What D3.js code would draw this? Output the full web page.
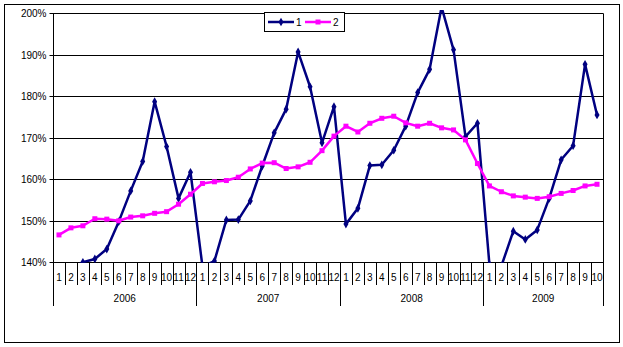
<!DOCTYPE html>
<html>
<head>
<meta charset="utf-8">
<script src="https://cdn.jsdelivr.net/npm/d3@7/dist/d3.min.js"></script>
<style>
  html, body { margin: 0; padding: 0; background: #fff; }
  svg { display: block; }
  text { font-family: "Liberation Sans", Arial, sans-serif; font-size: 10px; fill: #000; }
</style>
</head>
<body>
<svg id="chart" width="623" height="347"></svg>
<script>
// ---- data ----
const years = ["2006", "2007", "2008", "2009"];
const monthsPerYear = [12, 12, 12, 10];
const seriesNames = ["1", "2"];
const series1 = [
  137.0, 138.5, 140.0, 140.8, 143.2, 149.8, 157.2, 164.3, 178.7, 167.9, 155.4, 161.7,
  139.0, 140.3, 150.2, 150.3, 154.8, 163.2, 171.2, 176.9, 190.7, 182.3, 168.8, 177.5,
  149.2, 153.0, 163.3, 163.5, 167.0, 172.8, 180.9, 186.5, 201.5, 191.2, 170.3, 173.5,
  139.5, 139.1, 147.5, 145.5, 147.8, 155.4, 164.7, 168.1, 187.7, 175.5
];
const series2 = [
  146.6, 148.3, 148.8, 150.5, 150.4, 150.0, 150.9, 151.2, 151.8, 152.2, 154.0, 156.4,
  159.0, 159.4, 159.7, 160.5, 162.5, 163.9, 164.0, 162.6, 163.0, 164.1, 166.9, 170.4,
  172.8, 171.4, 173.5, 174.7, 175.2, 173.6, 172.8, 173.5, 172.4, 171.9, 169.5, 163.8,
  158.4, 157.0, 156.0, 155.7, 155.4, 155.8, 156.6, 157.3, 158.4, 158.8
];
const yTicks = [140, 150, 160, 170, 180, 190, 200];

// ---- build categories ----
const cats = [];
years.forEach((yr, yi) => {
  for (let m = 1; m <= monthsPerYear[yi]; m++) cats.push({ key: yr + "-" + m, year: yr, month: m });
});

const svg = d3.select("#chart");
const W = 623, H = 347;
const plot = { left: 53, right: 603, top: 13.3, bottom: 262.3 };

// outer border
svg.append("rect").attr("x", 4.5).attr("y", 4.5).attr("width", 615).attr("height", 338)
  .attr("fill", "#fff").attr("stroke", "#000").attr("stroke-width", 1);

const x = d3.scaleBand().domain(cats.map(c => c.key)).range([plot.left, plot.right]).padding(0);
const y = d3.scaleLinear().domain([140, 200]).range([plot.bottom, plot.top]);

// gridlines
svg.append("g").selectAll("line").data(yTicks).join("line")
  .attr("x1", plot.left).attr("x2", plot.right)
  .attr("y1", d => Math.round(y(d)) + 0.5).attr("y2", d => Math.round(y(d)) + 0.5)
  .attr("stroke", "#000").attr("stroke-width", 1);

// y axis
const yAxis = d3.axisLeft(y).tickValues(yTicks).tickFormat(d => d + "%").tickSize(4).tickPadding(3);
const gy = svg.append("g").attr("transform", `translate(${plot.left + 0.5},0)`).call(yAxis);
gy.select(".domain").remove();
gy.selectAll(".tick line").attr("stroke", "#000");
gy.selectAll(".tick").attr("transform", d => `translate(0,${Math.round(y(d)) + 0.5})`);
gy.selectAll("text").attr("font-size", 10).attr("font-family", "Liberation Sans, Arial, sans-serif").attr("fill", "#000");

// left axis line and right border
svg.append("line").attr("x1", plot.left + 0.5).attr("x2", plot.left + 0.5)
  .attr("y1", plot.top).attr("y2", 306).attr("stroke", "#000");
svg.append("line").attr("x1", plot.right + 0.5).attr("x2", plot.right + 0.5)
  .attr("y1", plot.top).attr("y2", 306).attr("stroke", "#000");

// month tick lines
const bw = x.bandwidth();
svg.append("g").selectAll("line").data(cats.slice(1)).join("line")
  .attr("x1", d => Math.round(x(d.key)) + 0.5).attr("x2", d => Math.round(x(d.key)) + 0.5)
  .attr("y1", plot.bottom).attr("y2", d => d.month === 1 ? 306 : 285)
  .attr("stroke", "#000");

// month labels
svg.append("g").selectAll("text").data(cats).join("text")
  .attr("x", d => x(d.key) + bw / 2).attr("y", 281)
  .attr("text-anchor", "middle").text(d => d.month);

// year labels
let idx = 0;
const yearGroups = years.map((yr, yi) => {
  const first = cats[idx].key, last = cats[idx + monthsPerYear[yi] - 1].key;
  idx += monthsPerYear[yi];
  return { year: yr, x0: x(first), x1: x(last) + bw };
});
svg.append("g").selectAll("text").data(yearGroups).join("text")
  .attr("x", d => (d.x0 + d.x1) / 2).attr("y", 302)
  .attr("text-anchor", "middle").text(d => d.year);

// clip
svg.append("clipPath").attr("id", "clip").append("rect")
  .attr("x", plot.left - 6).attr("y", 10).attr("width", plot.right - plot.left + 12).attr("height", plot.bottom - 10 + 0.5);

const line = d3.line().x((d, i) => x(cats[i].key) + bw / 2).y(d => y(d));
const g = svg.append("g").attr("clip-path", "url(#clip)");

const navy = "#000080", pink = "#FF00FF";
g.append("path").datum(series1).attr("d", line).attr("fill", "none")
  .attr("stroke", navy).attr("stroke-width", 2.5).attr("stroke-linejoin", "round");
g.append("g").selectAll("path").data(series1).join("path")
  .attr("d", d3.symbol().type(d3.symbolDiamond).size(22))
  .attr("transform", (d, i) => `translate(${x(cats[i].key) + bw / 2},${y(d)})`)
  .attr("fill", navy);

g.append("path").datum(series2).attr("d", line).attr("fill", "none")
  .attr("stroke", pink).attr("stroke-width", 2.5).attr("stroke-linejoin", "round");
g.append("g").selectAll("rect").data(series2).join("rect")
  .attr("x", (d, i) => x(cats[i].key) + bw / 2 - 2.5).attr("y", d => y(d) - 2.5)
  .attr("width", 5).attr("height", 5).attr("fill", pink);

// legend
const lg = svg.append("g");
lg.append("rect").attr("x", 264.5).attr("y", 12.5).attr("width", 80).attr("height", 19)
  .attr("fill", "#fff").attr("stroke", "#000");
const lItems = [
  { name: seriesNames[0], color: navy, x0: 268, x1: 294, tx: 296, sym: "d" },
  { name: seriesNames[1], color: pink, x0: 305, x1: 331, tx: 333, sym: "s" }
];
lItems.forEach(it => {
  lg.append("line").attr("x1", it.x0).attr("x2", it.x1).attr("y1", 22).attr("y2", 22)
    .attr("stroke", it.color).attr("stroke-width", 2.5);
  const cx = (it.x0 + it.x1) / 2;
  if (it.sym === "d") {
    lg.append("path").attr("d", d3.symbol().type(d3.symbolDiamond).size(22)).attr("transform", `translate(${cx},22)`).attr("fill", it.color);
  } else {
    lg.append("rect").attr("x", cx - 2.5).attr("y", 19.5).attr("width", 5).attr("height", 5).attr("fill", it.color);
  }
  lg.append("text").attr("x", it.tx).attr("y", 26).text(it.name);
});
</script>
</body>
</html>
